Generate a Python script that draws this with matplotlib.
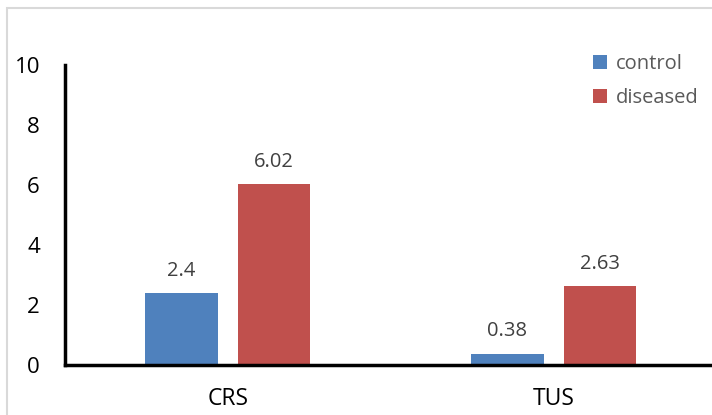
import numpy as np
import matplotlib.pyplot as plt
from matplotlib.patches import Rectangle

categories = ['CRS', 'TUS']
control = [2.4, 0.38]
diseased = [6.02, 2.63]
yticks = [0, 2, 4, 6, 8, 10]

blue = '#4F81BD'
red = '#C0504D'
plt.rcParams['font.family'] = ['Open Sans', 'DejaVu Sans']

fig = plt.figure(figsize=(7.12, 4.15), dpi=100)
# light chart-area frame, right and bottom edges fall outside the image
fig.patches.append(Rectangle((7 / 712, -0.1), 1.2, (415 - 8) / 415 + 0.1,
                             transform=fig.transFigure, fill=False,
                             edgecolor='#d9d9d9', linewidth=1.5))

ax = fig.add_axes([65 / 712, 50 / 415, 647 / 712, 300 / 415])
x = np.arange(len(categories))
w = 0.222
off = 0.142
b1 = ax.bar(x - off, control, w, color=blue, label='control')
b2 = ax.bar(x + off, diseased, w, color=red, label='diseased')

for bars, vals in ((b1, control), (b2, diseased)):
    for b, v in zip(bars, vals):
        ax.annotate(f'{v:g}', (b.get_x() + b.get_width() / 2, v),
                    xytext=(0, 9), textcoords='offset points',
                    ha='center', va='bottom', fontsize=14.5, color='#404040')

ax.set_xlim(-0.5, 1.486)
ax.set_ylim(0, 10)
ax.set_yticks(yticks)
ax.set_xticks(x)
ax.set_xticklabels(categories)
for s in ['top', 'right']:
    ax.spines[s].set_visible(False)
for s in ['left', 'bottom']:
    ax.spines[s].set_linewidth(2.5)
    ax.spines[s].set_color('black')
    ax.spines[s].set_capstyle('projecting')
ax.tick_params(axis='both', length=0, colors='black')
ax.tick_params(axis='y', pad=18, labelsize=16)
ax.tick_params(axis='x', pad=16, labelsize=16.5)

ax.legend(loc='upper left', bbox_to_anchor=(583 / 712, 371 / 415),
          bbox_transform=fig.transFigure, frameon=False, fontsize=14.5,
          handlelength=0.7, handleheight=0.7, handletextpad=0.45,
          labelspacing=0.7, borderpad=0, labelcolor='#595959')

fig.savefig('out.png', dpi=100)
